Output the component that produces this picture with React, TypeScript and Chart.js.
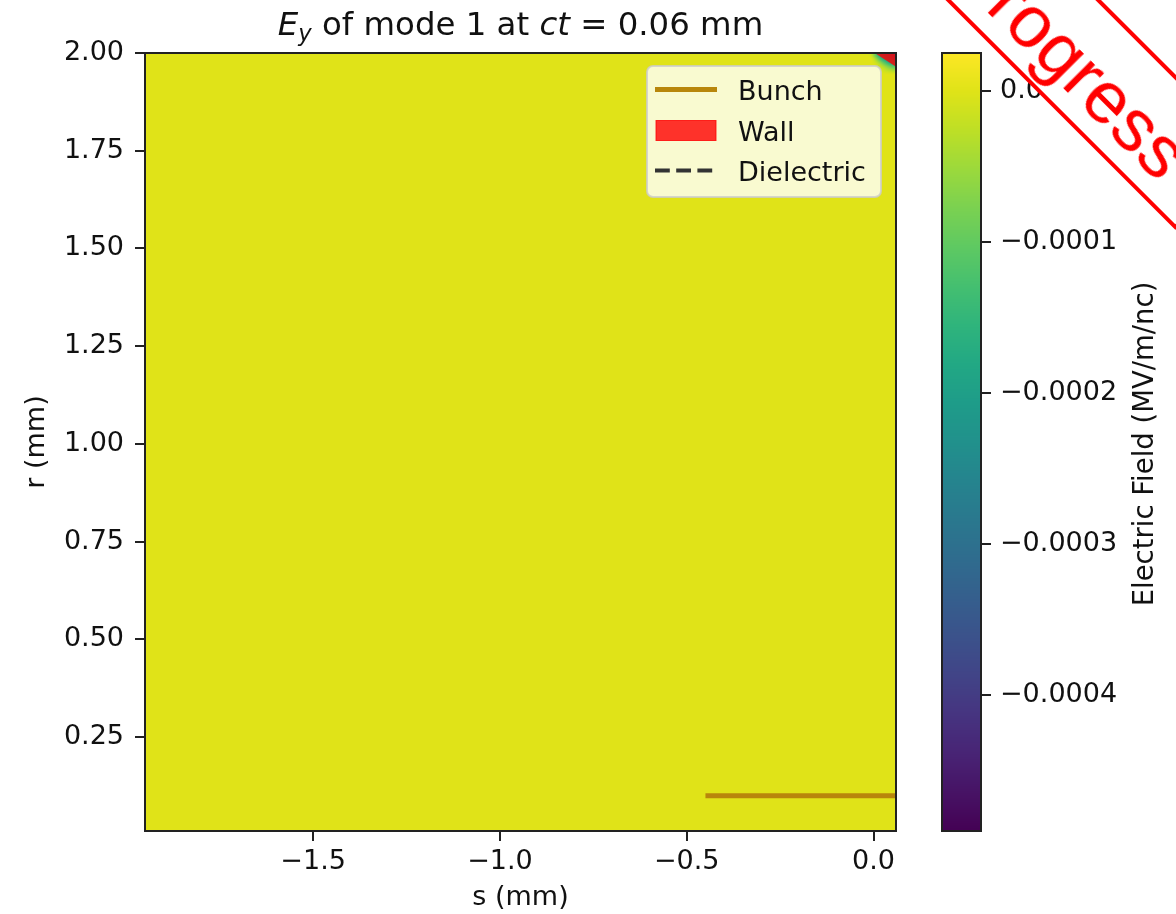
import { useEffect, useRef } from "react";
import { Chart, registerables } from "chart.js";

Chart.register(...registerables);

// Axis extents (mm) and tick positions
const sLimits = [-1.95, 0.06];
const rLimits = [0.01, 2.0];
const sTicks = [-1.5, -1.0, -0.5, 0.0];
const rTicks = [0.25, 0.5, 0.75, 1.0, 1.25, 1.5, 1.75, 2.0];

// Colour scale of Ey (MV/m/nc)
const eyLimits = [-0.00049, 0.000025];
const eyTicks = [-0.0004, -0.0003, -0.0002, -0.0001, 0.0];

// Ey over the bulk of the domain
const bulkEy = 0.0;

// Ey close to the wall corner: columns follow cornerS, rows follow cornerR
const cornerS = [-0.015, -0.005, 0.005, 0.015, 0.025, 0.035, 0.045, 0.055];
const cornerR = [1.995, 1.985, 1.975, 1.965, 1.955, 1.945];
const cornerEy = [
  [0, -0.2e-4, -1.0e-4, -1.8e-4, -2.4e-4, -2.8e-4, -3.0e-4, -3.2e-4],
  [0, 0, -0.4e-4, -1.1e-4, -1.7e-4, -2.2e-4, -2.6e-4, -2.8e-4],
  [0, 0, -0.1e-4, -0.4e-4, -0.9e-4, -1.4e-4, -1.8e-4, -2.1e-4],
  [0, 0, 0, -0.1e-4, -0.3e-4, -0.6e-4, -0.9e-4, -1.1e-4],
  [0, 0, 0, 0, -0.1e-4, -0.2e-4, -0.3e-4, -0.4e-4],
  [0, 0, 0, 0, 0, 0, 0, 0],
];

// Bunch, wall and dielectric outlines (s, r in mm)
const bunchS = [-0.45, 0.06];
const bunchR = [0.1, 0.1];
const wallS = [0.003, 0.06, 0.06];
const wallR = [2.0, 2.0, 1.965];
const dielectricS: number[] = [];
const dielectricR: number[] = [];

const VIRIDIS = [
  "#440154", "#471365", "#482475", "#463480", "#414487", "#3b528b", "#355f8d",
  "#2f6c8e", "#2a788e", "#25848e", "#21918c", "#1e9c89", "#22a884", "#2fb47c",
  "#44bf70", "#5ec962", "#7ad151", "#9bd93c", "#bddf26", "#dfe318", "#fde725",
];

const FONT = "'DejaVu Sans', sans-serif";
const TEXT = "#111";
const INK = "#222";

function hexRgb(h: string): number[] {
  const n = parseInt(h.slice(1), 16);
  return [(n >> 16) & 255, (n >> 8) & 255, n & 255];
}

function viridis(t: number): number[] {
  const x = Math.min(1, Math.max(0, t)) * (VIRIDIS.length - 1);
  const i = Math.min(VIRIDIS.length - 2, Math.floor(x));
  const f = x - i;
  const a = hexRgb(VIRIDIS[i]);
  const b = hexRgb(VIRIDIS[i + 1]);
  return [0, 1, 2].map((k) => Math.round(a[k] + (b[k] - a[k]) * f));
}

const normEy = (v: number) => (v - eyLimits[0]) / (eyLimits[1] - eyLimits[0]);
const rgb = (c: number[]) => `rgb(${c[0]},${c[1]},${c[2]})`;
const minus = (v: number, d: number) =>
  v < 0 ? "\u2212" + Math.abs(v).toFixed(d) : Math.abs(v).toFixed(d);

const pts = (xs: number[], ys: number[]) => xs.map((x, i) => ({ x, y: ys[i] }));

// Paints the Ey field map underneath the datasets
const fieldPlugin = {
  id: "fieldMap",
  beforeDatasetsDraw(chart: any) {
    const { ctx, chartArea: a, scales } = chart;
    const xs = scales.x;
    const ys = scales.y;
    ctx.save();
    ctx.beginPath();
    ctx.rect(a.left, a.top, a.right - a.left, a.bottom - a.top);
    ctx.clip();

    const x0 = xs.getPixelForValue(sLimits[0]);
    const x1 = xs.getPixelForValue(sLimits[1]);
    const y0 = ys.getPixelForValue(rLimits[1]);
    const y1 = ys.getPixelForValue(rLimits[0]);
    ctx.fillStyle = rgb(viridis(normEy(bulkEy)));
    ctx.fillRect(x0, y0, x1 - x0, y1 - y0);

    const nC = cornerS.length;
    const nR = cornerR.length;
    const off = document.createElement("canvas");
    off.width = nC;
    off.height = nR;
    const octx = off.getContext("2d")!;
    const img = octx.createImageData(nC, nR);
    for (let j = 0; j < nR; j++) {
      for (let i = 0; i < nC; i++) {
        const c = viridis(normEy(cornerEy[j][i]));
        const o = (j * nC + i) * 4;
        img.data[o] = c[0];
        img.data[o + 1] = c[1];
        img.data[o + 2] = c[2];
        img.data[o + 3] = 255;
      }
    }
    octx.putImageData(img, 0, 0);
    const ds = cornerS[1] - cornerS[0];
    const dr = cornerR[0] - cornerR[1];
    const px0 = xs.getPixelForValue(cornerS[0] - ds / 2);
    const px1 = xs.getPixelForValue(cornerS[nC - 1] + ds / 2);
    const py0 = ys.getPixelForValue(cornerR[0] + dr / 2);
    const py1 = ys.getPixelForValue(cornerR[nR - 1] - dr / 2);
    ctx.imageSmoothingEnabled = true;
    ctx.imageSmoothingQuality = "high";
    ctx.drawImage(off, px0, py0, px1 - px0, py1 - py0);
    ctx.restore();
  },
};

// Frame, legend and title drawn over the datasets
const overlayPlugin = {
  id: "overlay",
  afterDatasetsDraw(chart: any) {
    const { ctx, chartArea: a } = chart;
    ctx.save();

    // legend box in the upper right corner
    const lw = 234;
    const lh = 131;
    const lx = a.right - 15 - lw;
    const ly = a.top + 13;
    ctx.beginPath();
    ctx.roundRect(lx, ly, lw, lh, 6);
    ctx.fillStyle = "rgba(255,255,255,0.8)";
    ctx.fill();
    ctx.strokeStyle = "rgba(204,204,204,0.8)";
    ctx.lineWidth = 2;
    ctx.stroke();

    const rows = [23.5, 64.5, 104.5];
    chart.data.datasets.forEach((d: any, k: number) => {
      const cy = ly + rows[k];
      const hx0 = lx + 8;
      const hx1 = lx + 70;
      if (d.fill === "shape") {
        ctx.fillStyle = d.backgroundColor;
        ctx.fillRect(hx0 + 1, cy - 10, hx1 - hx0 - 2, 20);
        ctx.strokeStyle = d.borderColor;
        ctx.lineWidth = 1;
        ctx.strokeRect(hx0 + 1, cy - 10, hx1 - hx0 - 2, 20);
      } else {
        ctx.beginPath();
        ctx.setLineDash(d.borderDash || []);
        ctx.strokeStyle = d.borderColor;
        ctx.lineWidth = d.borderWidth;
        ctx.lineCap = "butt";
        ctx.moveTo(hx0, cy);
        ctx.lineTo(hx1, cy);
        ctx.stroke();
        ctx.setLineDash([]);
      }
      ctx.fillStyle = TEXT;
      ctx.font = `27px ${FONT}`;
      ctx.textAlign = "left";
      ctx.textBaseline = "alphabetic";
      ctx.fillText(d.label, lx + 91, cy + 10);
    });

    // axes frame
    ctx.strokeStyle = INK;
    ctx.lineWidth = 2;
    ctx.strokeRect(a.left, a.top, a.right - a.left, a.bottom - a.top);

    // title: E_y of mode 1 at ct = 0.06 mm
    const size = 32.4;
    const parts = [
      { t: "E", font: `italic ${size}px ${FONT}`, dy: 0 },
      { t: "y", font: `italic ${size * 0.7}px ${FONT}`, dy: size * 0.2 },
      { t: " of mode 1 at ", font: `${size}px ${FONT}`, dy: 0 },
      { t: "ct", font: `italic ${size}px ${FONT}`, dy: 0 },
      { t: " = 0.06 mm", font: `${size}px ${FONT}`, dy: 0 },
    ];
    let total = 0;
    const widths = parts.map((p) => {
      ctx.font = p.font;
      const w = ctx.measureText(p.t).width;
      total += w;
      return w;
    });
    let tx = (a.left + a.right) / 2 - total / 2;
    const base = a.top - 18;
    ctx.fillStyle = TEXT;
    ctx.textAlign = "left";
    ctx.textBaseline = "alphabetic";
    parts.forEach((p, i) => {
      ctx.font = p.font;
      ctx.fillText(p.t, tx, base + p.dy);
      tx += widths[i];
    });
    ctx.restore();
  },
};

// Viridis strip, frame and label of the colour bar
const colorbarPlugin = {
  id: "colorbar",
  beforeDatasetsDraw(chart: any) {
    const { ctx, chartArea: a, scales } = chart;
    const ys = scales.y;
    ctx.save();
    for (let py = Math.floor(a.top); py < Math.ceil(a.bottom); py++) {
      const v = ys.getValueForPixel(py + 0.5);
      ctx.fillStyle = rgb(viridis(normEy(v)));
      ctx.fillRect(a.left, py, a.right - a.left, 1);
    }
    ctx.strokeStyle = INK;
    ctx.lineWidth = 2;
    ctx.strokeRect(a.left, a.top, a.right - a.left, a.bottom - a.top);

    ctx.translate(1153, (a.top + a.bottom) / 2 + 2);
    ctx.rotate(-Math.PI / 2);
    ctx.font = `27.5px ${FONT}`;
    ctx.fillStyle = TEXT;
    ctx.textAlign = "center";
    ctx.textBaseline = "alphabetic";
    ctx.fillText("Electric Field (MV/m/nc)", 0, 0);
    ctx.restore();
  },
};

const tickGrid = {
  drawOnChartArea: false,
  drawTicks: true,
  tickLength: 10,
  color: INK,
  lineWidth: 2,
};

export default function App() {
  const mainRef = useRef<HTMLCanvasElement>(null);
  const barRef = useRef<HTMLCanvasElement>(null);

  useEffect(() => {
    Chart.defaults.font.family = FONT;
    Chart.defaults.font.size = 27;
    Chart.defaults.color = TEXT;

    const main = new Chart(mainRef.current!, {
      type: "scatter",
      data: {
        datasets: [
          {
            label: "Bunch",
            data: pts(bunchS, bunchR),
            showLine: true,
            borderColor: "#b8860b",
            backgroundColor: "#b8860b",
            borderWidth: 5,
            borderCapStyle: "butt",
            pointRadius: 0,
          },
          {
            label: "Wall",
            data: pts(wallS, wallR),
            showLine: true,
            fill: "shape",
            borderColor: "rgba(255,0,0,0.8)",
            backgroundColor: "rgba(255,0,0,0.8)",
            borderWidth: 1,
            pointRadius: 0,
          },
          {
            label: "Dielectric",
            data: pts(dielectricS, dielectricR),
            showLine: true,
            borderColor: "#333333",
            backgroundColor: "#333333",
            borderDash: [14.8, 6.4],
            borderWidth: 4,
            pointRadius: 0,
          },
        ],
      } as any,
      options: {
        responsive: false,
        maintainAspectRatio: false,
        devicePixelRatio: 1,
        animation: false,
        events: [],
        layout: { padding: { left: 0, top: 53, right: 280, bottom: 0 } },
        plugins: {
          legend: { display: false },
          title: { display: false },
          tooltip: { enabled: false },
        },
        scales: {
          x: {
            type: "linear",
            min: sLimits[0],
            max: sLimits[1],
            afterFit: (s: any) => {
              s.height = 83;
            },
            afterBuildTicks: (s: any) => {
              s.ticks = sTicks.map((value) => ({ value }));
            },
            ticks: {
              autoSkip: false,
              maxRotation: 0,
              padding: 5,
              color: TEXT,
              callback: (v: any) => minus(Number(v), 1),
            },
            grid: tickGrid,
            border: { display: false },
            title: {
              display: true,
              text: "s (mm)",
              color: TEXT,
              font: { size: 27 },
              padding: { top: 0, bottom: 0 },
            },
          },
          y: {
            type: "linear",
            min: rLimits[0],
            max: rLimits[1],
            afterFit: (s: any) => {
              s.width = 145;
            },
            afterBuildTicks: (s: any) => {
              s.ticks = rTicks.map((value) => ({ value }));
            },
            ticks: {
              autoSkip: false,
              padding: 11,
              color: TEXT,
              callback: (v: any) => Number(v).toFixed(2),
            },
            grid: tickGrid,
            border: { display: false },
            title: {
              display: true,
              text: "r (mm)",
              color: TEXT,
              font: { size: 27 },
              padding: { top: 21, bottom: 0 },
            },
          },
        },
      } as any,
      plugins: [fieldPlugin, overlayPlugin],
    });

    const bar = new Chart(barRef.current!, {
      type: "scatter",
      data: { datasets: [] },
      options: {
        responsive: false,
        maintainAspectRatio: false,
        devicePixelRatio: 1,
        animation: false,
        events: [],
        layout: { padding: { left: 942, top: 53, right: 0, bottom: 83 } },
        plugins: {
          legend: { display: false },
          title: { display: false },
          tooltip: { enabled: false },
        },
        scales: {
          x: { type: "linear", display: false, min: 0, max: 1 },
          y: {
            type: "linear",
            position: "right",
            min: eyLimits[0],
            max: eyLimits[1],
            afterFit: (s: any) => {
              s.width = 195;
            },
            afterBuildTicks: (s: any) => {
              s.ticks = eyTicks.map((value) => ({ value }));
            },
            ticks: {
              autoSkip: false,
              padding: 9,
              color: TEXT,
              callback: (v: any) => minus(Number(v), 4),
            },
            grid: tickGrid,
            border: { display: false },
          },
        },
      } as any,
      plugins: [colorbarPlugin],
    });

    return () => {
      main.destroy();
      bar.destroy();
    };
  }, []);

  return (
    <div
      style={{
        position: "fixed",
        left: 0,
        top: 0,
        width: 1176,
        height: 914,
        overflow: "hidden",
        background: "#fff",
      }}
    >
      <canvas
        ref={mainRef}
        width={1176}
        height={914}
        style={{ position: "absolute", left: 0, top: 0 }}
      />
      <canvas
        ref={barRef}
        width={1176}
        height={914}
        style={{ position: "absolute", left: 0, top: 0 }}
      />
      <div
        style={{
          position: "absolute",
          left: 924.5,
          top: -176.4,
          width: 464.4,
          height: 110,
          boxSizing: "border-box",
          border: "4px solid #ff0000",
          background: "#fff",
          color: "#ff0000",
          fontFamily: "'Liberation Sans', Arial, sans-serif",
          fontSize: 74,
          lineHeight: "80px",
          paddingTop: 19.8,
          paddingLeft: 37,
          whiteSpace: "nowrap",
          transformOrigin: "0 0",
          transform: "rotate(45deg)",
        }}
      >
        In Progress
      </div>
    </div>
  );
}
